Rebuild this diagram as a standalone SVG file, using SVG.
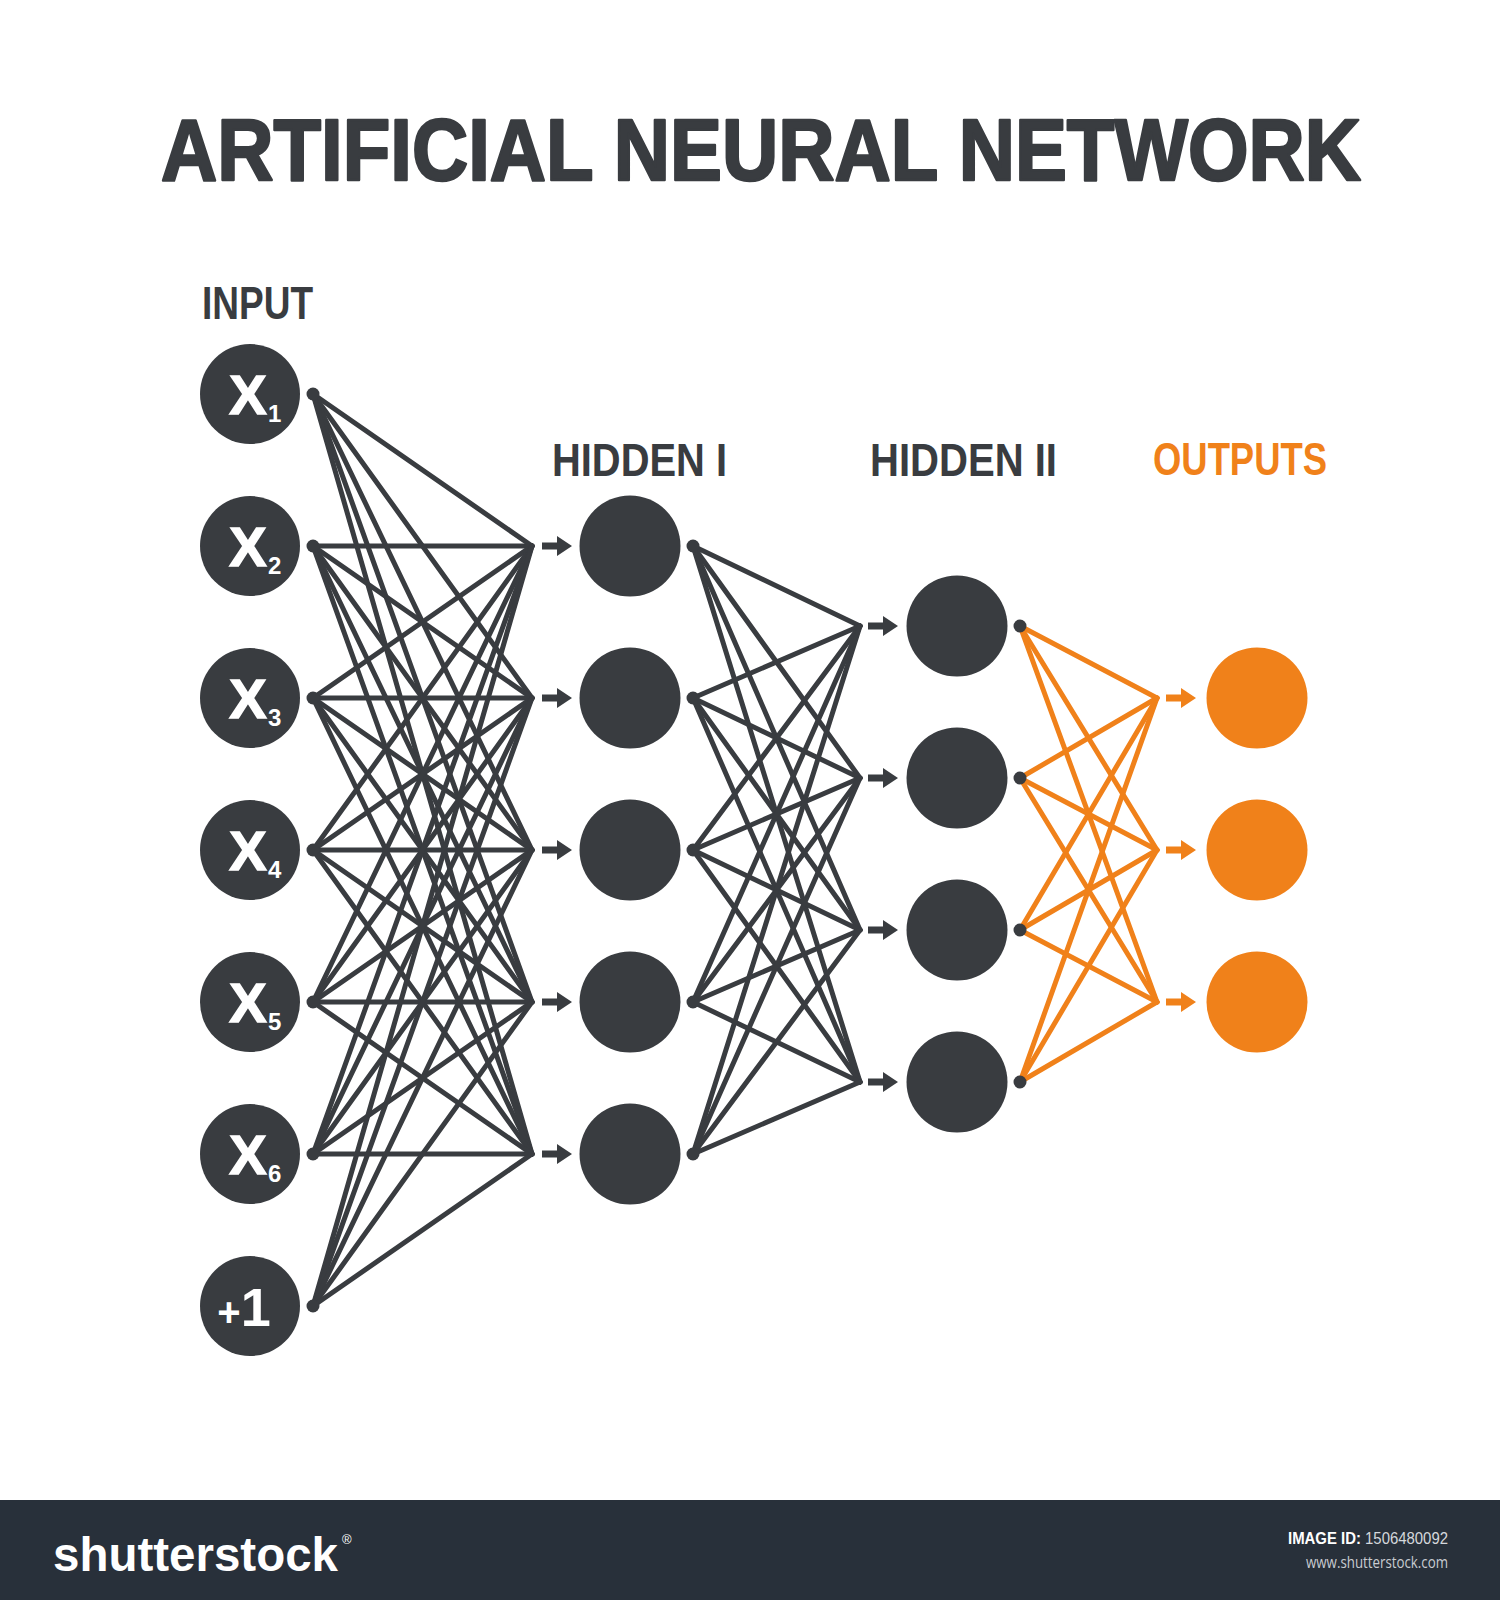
<svg xmlns="http://www.w3.org/2000/svg" xmlns:xlink="http://www.w3.org/1999/xlink" width="1500" height="1600" viewBox="0 0 1500 1600">
<style>
.bg{fill:#ffffff}
.node{fill:#393c40}
.out{fill:#f0811a}
.dot{fill:#393c40}
.title{font-family:"Liberation Sans",Arial,sans-serif;font-weight:bold;fill:#393c40;stroke:#393c40;stroke-width:2.5;stroke-linejoin:round}
.lbl{font-family:"Liberation Sans",Arial,sans-serif;font-weight:bold;font-size:46px;fill:#393c40}
.lblo{fill:#f0811a}
.x{font-family:"Liberation Sans",Arial,sans-serif;font-weight:bold;fill:#ffffff}
.xs{stroke:#ffffff;stroke-width:1.5}
.c{stroke:#393c40;stroke-width:5;stroke-linecap:round}
.co{stroke:#f0811a;stroke-width:5;stroke-linecap:round}
.ag{fill:#393c40}
.ao{fill:#f0811a}
.foot{fill:#28303a}
.ft{font-family:"Liberation Sans",Arial,sans-serif;fill:#ffffff}
.fs{font-family:"Open Sans","Liberation Sans",sans-serif;fill:#c9ccd1}
</style>
<defs>
<path id="arr" d="M0,-3.5 H15 V-10 L30,0 L15,10 V3.5 H0 Z"/>
</defs>
<rect class="bg" x="0" y="0" width="1500" height="1600"/>

<text class="title" x="761" y="180" font-size="88" text-anchor="middle" textLength="1200" lengthAdjust="spacingAndGlyphs">ARTIFICIAL NEURAL NETWORK</text>

<g id="labels">
<text class="lbl" x="202" y="319" textLength="111" lengthAdjust="spacingAndGlyphs">INPUT</text>
<text class="lbl" x="552" y="476" textLength="175" lengthAdjust="spacingAndGlyphs">HIDDEN I</text>
<text class="lbl" x="870" y="476" textLength="187" lengthAdjust="spacingAndGlyphs">HIDDEN II</text>
<text class="lbl lblo" x="1153" y="475" textLength="174" lengthAdjust="spacingAndGlyphs">OUTPUTS</text>
</g>

<g id="connectors">
<!-- input -> hidden I -->
<line class="c" x1="313" y1="394" x2="532" y2="546"/>
<line class="c" x1="313" y1="394" x2="532" y2="698"/>
<line class="c" x1="313" y1="394" x2="532" y2="850"/>
<line class="c" x1="313" y1="394" x2="532" y2="1002"/>
<line class="c" x1="313" y1="394" x2="532" y2="1154"/>
<line class="c" x1="313" y1="546" x2="532" y2="546"/>
<line class="c" x1="313" y1="546" x2="532" y2="698"/>
<line class="c" x1="313" y1="546" x2="532" y2="850"/>
<line class="c" x1="313" y1="546" x2="532" y2="1002"/>
<line class="c" x1="313" y1="546" x2="532" y2="1154"/>
<line class="c" x1="313" y1="698" x2="532" y2="546"/>
<line class="c" x1="313" y1="698" x2="532" y2="698"/>
<line class="c" x1="313" y1="698" x2="532" y2="850"/>
<line class="c" x1="313" y1="698" x2="532" y2="1002"/>
<line class="c" x1="313" y1="698" x2="532" y2="1154"/>
<line class="c" x1="313" y1="850" x2="532" y2="546"/>
<line class="c" x1="313" y1="850" x2="532" y2="698"/>
<line class="c" x1="313" y1="850" x2="532" y2="850"/>
<line class="c" x1="313" y1="850" x2="532" y2="1002"/>
<line class="c" x1="313" y1="850" x2="532" y2="1154"/>
<line class="c" x1="313" y1="1002" x2="532" y2="546"/>
<line class="c" x1="313" y1="1002" x2="532" y2="698"/>
<line class="c" x1="313" y1="1002" x2="532" y2="850"/>
<line class="c" x1="313" y1="1002" x2="532" y2="1002"/>
<line class="c" x1="313" y1="1002" x2="532" y2="1154"/>
<line class="c" x1="313" y1="1154" x2="532" y2="546"/>
<line class="c" x1="313" y1="1154" x2="532" y2="698"/>
<line class="c" x1="313" y1="1154" x2="532" y2="850"/>
<line class="c" x1="313" y1="1154" x2="532" y2="1002"/>
<line class="c" x1="313" y1="1154" x2="532" y2="1154"/>
<line class="c" x1="313" y1="1306" x2="532" y2="546"/>
<line class="c" x1="313" y1="1306" x2="532" y2="698"/>
<line class="c" x1="313" y1="1306" x2="532" y2="850"/>
<line class="c" x1="313" y1="1306" x2="532" y2="1002"/>
<line class="c" x1="313" y1="1306" x2="532" y2="1154"/>
<!-- hidden I -> hidden II -->
<line class="c" x1="693" y1="546" x2="860" y2="626"/>
<line class="c" x1="693" y1="546" x2="860" y2="778"/>
<line class="c" x1="693" y1="546" x2="860" y2="930"/>
<line class="c" x1="693" y1="546" x2="860" y2="1082"/>
<line class="c" x1="693" y1="698" x2="860" y2="626"/>
<line class="c" x1="693" y1="698" x2="860" y2="778"/>
<line class="c" x1="693" y1="698" x2="860" y2="930"/>
<line class="c" x1="693" y1="698" x2="860" y2="1082"/>
<line class="c" x1="693" y1="850" x2="860" y2="626"/>
<line class="c" x1="693" y1="850" x2="860" y2="778"/>
<line class="c" x1="693" y1="850" x2="860" y2="930"/>
<line class="c" x1="693" y1="850" x2="860" y2="1082"/>
<line class="c" x1="693" y1="1002" x2="860" y2="626"/>
<line class="c" x1="693" y1="1002" x2="860" y2="778"/>
<line class="c" x1="693" y1="1002" x2="860" y2="930"/>
<line class="c" x1="693" y1="1002" x2="860" y2="1082"/>
<line class="c" x1="693" y1="1154" x2="860" y2="626"/>
<line class="c" x1="693" y1="1154" x2="860" y2="778"/>
<line class="c" x1="693" y1="1154" x2="860" y2="930"/>
<line class="c" x1="693" y1="1154" x2="860" y2="1082"/>
<!-- hidden II -> outputs -->
<line class="co" x1="1020" y1="626" x2="1157" y2="698"/>
<line class="co" x1="1020" y1="626" x2="1157" y2="850"/>
<line class="co" x1="1020" y1="626" x2="1157" y2="1002"/>
<line class="co" x1="1020" y1="778" x2="1157" y2="698"/>
<line class="co" x1="1020" y1="778" x2="1157" y2="850"/>
<line class="co" x1="1020" y1="778" x2="1157" y2="1002"/>
<line class="co" x1="1020" y1="930" x2="1157" y2="698"/>
<line class="co" x1="1020" y1="930" x2="1157" y2="850"/>
<line class="co" x1="1020" y1="930" x2="1157" y2="1002"/>
<line class="co" x1="1020" y1="1082" x2="1157" y2="698"/>
<line class="co" x1="1020" y1="1082" x2="1157" y2="850"/>
<line class="co" x1="1020" y1="1082" x2="1157" y2="1002"/>
<!-- arrows -->
<use href="#arr" class="ag" x="542" y="546"/>
<use href="#arr" class="ag" x="542" y="698"/>
<use href="#arr" class="ag" x="542" y="850"/>
<use href="#arr" class="ag" x="542" y="1002"/>
<use href="#arr" class="ag" x="542" y="1154"/>
<use href="#arr" class="ag" x="868" y="626"/>
<use href="#arr" class="ag" x="868" y="778"/>
<use href="#arr" class="ag" x="868" y="930"/>
<use href="#arr" class="ag" x="868" y="1082"/>
<use href="#arr" class="ao" x="1166" y="698"/>
<use href="#arr" class="ao" x="1166" y="850"/>
<use href="#arr" class="ao" x="1166" y="1002"/>
</g>

<g id="in1"><circle class="node" cx="250" cy="394" r="50"/><circle class="dot" cx="313" cy="394" r="6.5"/><text class="x xs" x="248" y="414" font-size="56" text-anchor="middle">X</text><text class="x" x="268" y="422" font-size="24">1</text></g>
<g id="in2"><circle class="node" cx="250" cy="546" r="50"/><circle class="dot" cx="313" cy="546" r="6.5"/><text class="x xs" x="248" y="566" font-size="56" text-anchor="middle">X</text><text class="x" x="268" y="574" font-size="24">2</text></g>
<g id="in3"><circle class="node" cx="250" cy="698" r="50"/><circle class="dot" cx="313" cy="698" r="6.5"/><text class="x xs" x="248" y="718" font-size="56" text-anchor="middle">X</text><text class="x" x="268" y="726" font-size="24">3</text></g>
<g id="in4"><circle class="node" cx="250" cy="850" r="50"/><circle class="dot" cx="313" cy="850" r="6.5"/><text class="x xs" x="248" y="870" font-size="56" text-anchor="middle">X</text><text class="x" x="268" y="878" font-size="24">4</text></g>
<g id="in5"><circle class="node" cx="250" cy="1002" r="50"/><circle class="dot" cx="313" cy="1002" r="6.5"/><text class="x xs" x="248" y="1022" font-size="56" text-anchor="middle">X</text><text class="x" x="268" y="1030" font-size="24">5</text></g>
<g id="in6"><circle class="node" cx="250" cy="1154" r="50"/><circle class="dot" cx="313" cy="1154" r="6.5"/><text class="x xs" x="248" y="1174" font-size="56" text-anchor="middle">X</text><text class="x" x="268" y="1182" font-size="24">6</text></g>
<g id="bias"><circle class="node" cx="250" cy="1306" r="50"/><circle class="dot" cx="313" cy="1306" r="6.5"/><text class="x" x="244" y="1326" font-size="54" text-anchor="middle"><tspan font-size="40">+</tspan>1</text></g>

<g id="h1a"><circle class="node" cx="630" cy="546" r="50.5"/><circle class="dot" cx="693" cy="546" r="6.5"/></g>
<g id="h1b"><circle class="node" cx="630" cy="698" r="50.5"/><circle class="dot" cx="693" cy="698" r="6.5"/></g>
<g id="h1c"><circle class="node" cx="630" cy="850" r="50.5"/><circle class="dot" cx="693" cy="850" r="6.5"/></g>
<g id="h1d"><circle class="node" cx="630" cy="1002" r="50.5"/><circle class="dot" cx="693" cy="1002" r="6.5"/></g>
<g id="h1e"><circle class="node" cx="630" cy="1154" r="50.5"/><circle class="dot" cx="693" cy="1154" r="6.5"/></g>

<g id="h2a"><circle class="node" cx="957" cy="626" r="50.5"/><circle class="dot" cx="1020" cy="626" r="6.5"/></g>
<g id="h2b"><circle class="node" cx="957" cy="778" r="50.5"/><circle class="dot" cx="1020" cy="778" r="6.5"/></g>
<g id="h2c"><circle class="node" cx="957" cy="930" r="50.5"/><circle class="dot" cx="1020" cy="930" r="6.5"/></g>
<g id="h2d"><circle class="node" cx="957" cy="1082" r="50.5"/><circle class="dot" cx="1020" cy="1082" r="6.5"/></g>

<g id="o1"><circle class="out" cx="1257" cy="698" r="50.5"/></g>
<g id="o2"><circle class="out" cx="1257" cy="850" r="50.5"/></g>
<g id="o3"><circle class="out" cx="1257" cy="1002" r="50.5"/></g>

<g id="footer">
<rect class="foot" x="0" y="1500" width="1500" height="100"/>
<text class="ft" x="53" y="1571" font-size="48" font-weight="bold" textLength="285" lengthAdjust="spacingAndGlyphs">shutterstock</text>
<text class="ft" x="342" y="1544" font-size="13">®</text>
<text class="ft" x="1288" y="1544" font-size="17" textLength="160" lengthAdjust="spacingAndGlyphs"><tspan font-weight="bold">IMAGE ID:</tspan> <tspan fill="#d5d8dc">1506480092</tspan></text>
<text class="fs" x="1306" y="1568" font-size="16" textLength="142" lengthAdjust="spacingAndGlyphs">www.shutterstock.com</text>
</g>
</svg>
